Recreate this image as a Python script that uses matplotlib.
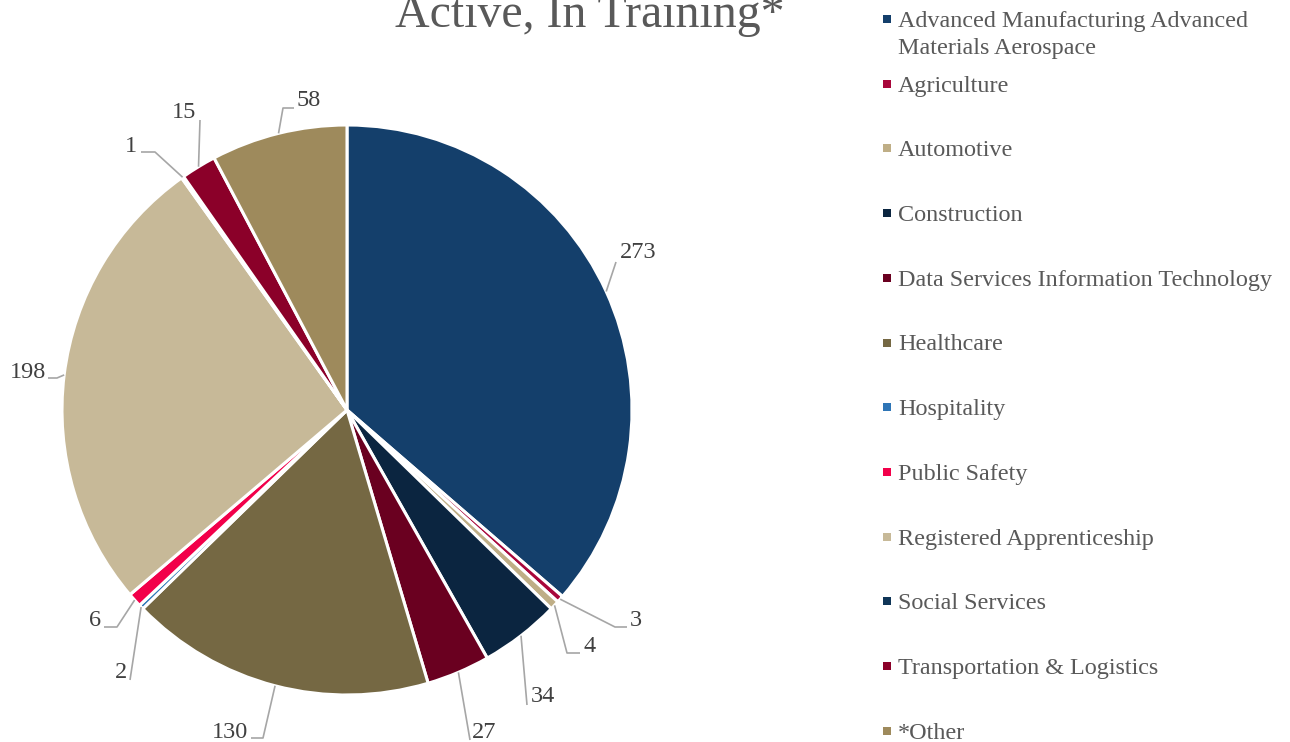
import numpy as np
import matplotlib
matplotlib.use('Agg')
import matplotlib.pyplot as plt

categories = ['Advanced Manufacturing Advanced\nMaterials Aerospace', 'Agriculture', 'Automotive',
              'Construction', 'Data Services Information Technology', 'Healthcare', 'Hospitality',
              'Public Safety', 'Registered Apprenticeship', 'Social Services',
              'Transportation & Logistics', '*Other']
counts = [273, 3, 4, 34, 27, 130, 2, 6, 198, 1, 15, 58]
colors = ['#143F6B', '#A8073B', '#BFAE86', '#0B2540', '#6A0020', '#756843', '#2E75B6',
          '#F2004A', '#C7B998', '#0F3557', '#8B0029', '#9E8A5C']
title = 'Active, In Training*'

W, H = 1290, 742
# label layout, pixels from top-left: text pos, alignment, leader points after the wedge edge
label_layout = [
    ((620, 253), 'left', [(616, 262)]),
    ((630, 621), 'left', [(615, 627), (627, 627)]),
    ((583, 647), 'left', [(567, 653), (580, 653)]),
    ((531, 697), 'left', [(527, 705)]),
    ((472, 733), 'left', [(470, 740)]),
    ((248, 733), 'right', [(263, 738), (251, 738)]),
    ((127, 673), 'right', [(130, 680)]),
    ((101, 620), 'right', [(117, 627), (104, 627)]),
    ((46, 372), 'right', [(57, 378), (48, 378)]),
    ((137, 146), 'right', [(155, 152), (141, 152)]),
    ((196, 112), 'right', [(200, 120)]),
    ((297, 101), 'left', [(283, 108), (294, 108)]),
]

plt.rcParams['font.family'] = ['Liberation Serif', 'DejaVu Serif']

fig = plt.figure(figsize=(W / 100, H / 100), dpi=100)
ax = fig.add_axes([0, 0, 1, 1])

cx, cy, r = 347, H - 410, 285
wedges, _ = ax.pie(counts, colors=colors, startangle=90, counterclock=False,
                   center=(cx, cy), radius=r,
                   wedgeprops=dict(edgecolor='white', linewidth=2.2))
ax.set_xlim(0, W)
ax.set_ylim(0, H)
ax.axis('off')

def py(y):
    return H - y

for w, n, (tpos, ha, pts) in zip(wedges, counts, label_layout):
    mid = np.deg2rad((w.theta1 + w.theta2) / 2)
    ex, ey = cx + r * np.cos(mid), cy + r * np.sin(mid)
    xs = [ex] + [p[0] for p in pts]
    ys = [ey] + [py(p[1]) for p in pts]
    ax.plot(xs, ys, color='#A6A6A6', lw=1.2, solid_capstyle='butt')
    ax.text(tpos[0], py(tpos[1]), str(n), ha=ha, va='center', fontsize=17.5, color='#404040')

# title runs off the top edge, as in the original
ax.text(590, py(27), title, ha='center', va='baseline', fontsize=34.5, color='#595959')

# legend drawn by hand
leg_y = 19
for lab, c in zip(categories, colors):
    ax.scatter([887], [py(leg_y)], marker='s', s=26, color=c, linewidths=0)
    ax.text(898, py(leg_y) + 8, lab, ha='left', va='top', fontsize=17.4, color='#595959',
            linespacing=1.38)
    leg_y += 64.7

fig.savefig('out.png', dpi=100)
